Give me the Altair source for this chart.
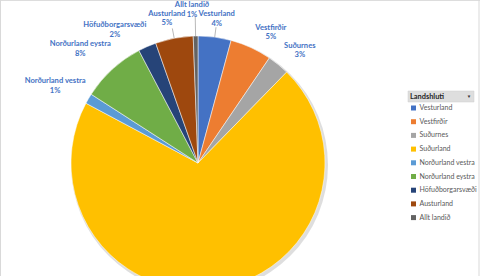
import altair as alt
import pandas as pd

regions = ["Vesturland", "Vestfirðir", "Suðurnes", "Suðurland", "Norðurland vestra",
           "Norðurland eystra", "Höfuðborgarsvæði", "Austurland", "Allt landið"]
values = [4.2, 5.3, 2.8, 70.5, 1.3, 8.2, 2.3, 4.8, 0.6]
colors = ["#4472C4", "#ED7D31", "#A5A5A5", "#FFC000", "#5B9BD5",
          "#70AD47", "#264478", "#9E480E", "#636363"]
pct_labels = ["4%", "5%", "3%", "71%", "1%", "8%", "2%", "5%", "1%"]
leader_regions = ["Vesturland", "Austurland", "Allt landið"]

df = pd.DataFrame({
    "region": regions,
    "value": values,
    "idx": list(range(len(regions))),
    "label": [f"{r}\n{p}" for r, p in zip(regions, pct_labels)],
})

CX, CY, R = 198, 163, 127

# label placement (radius, dx, dy) – layout only; the Suðurland label falls
# below the visible frame in the reference and is not drawn
label_place = {
    "Vesturland": (150, -1, 0),
    "Vestfirðir": (153, 9, 4),
    "Suðurnes": (153, 5, 1),
    "Norðurland vestra": (161, -4, 0),
    "Norðurland eystra": (161, -9, 0),
    "Höfuðborgarsvæði": (158, -20, 7),
    "Austurland": (150, -3, -2),
    "Allt landið": (158, -3, 0),
}

color_scale = alt.Scale(domain=regions, range=colors)
base = alt.Chart(df)

shadow = alt.Chart(pd.DataFrame({"a": [1]})).mark_arc(
    radius=R + 1.5, fill="#000000", opacity=0.13
).encode(x=alt.value(CX + 1.5), y=alt.value(CY + 2))

pie = base.mark_arc(radius=R, stroke="white", strokeWidth=0.5).encode(
    theta=alt.Theta("value:Q", stack=True),
    color=alt.Color("region:N", scale=color_scale, sort=regions,
                    legend=alt.Legend(orient="none", legendX=410, legendY=104.5,
                                      title=None, symbolType="square",
                                      symbolSize=25, symbolStrokeWidth=0,
                                      labelFontSize=7.0, labelColor="#595959",
                                      labelFont="Lato", rowPadding=5.7,
                                      labelOffset=2.5)),
    order=alt.Order("idx:Q"),
    x=alt.value(CX), y=alt.value(CY),
)

label_style = dict(font="Lato", fontSize=7.6, fontWeight="bold", color="#4472C4",
                   lineBreak="\n", align="center", baseline="middle", lineHeight=9.5)

label_layers = []
for reg, (rad, dx, dy) in label_place.items():
    label_layers.append(
        base.mark_text(radius=rad, dx=dx, dy=dy, **label_style).encode(
            theta=alt.Theta("value:Q", stack=True),
            order=alt.Order("idx:Q"),
            text=alt.condition(alt.FieldEqualPredicate(field="region", equal=reg),
                               "label:N", alt.value("")),
            x=alt.value(CX), y=alt.value(CY),
        )
    )

leaders = base.transform_joinaggregate(total="sum(value)").transform_window(
    cum="sum(value)", sort=[alt.SortField("idx")]
).transform_calculate(
    a="(datum.cum - datum.value/2) / datum.total * 2 * PI",
    ext="datum.region == 'Allt landið' ? 20 : 10",
    x1=f"{CX} + {R} * sin(datum.a)",
    y1=f"{CY} - {R} * cos(datum.a)",
    x2=f"{CX} + ({R} + datum.ext) * sin(datum.a)",
    y2=f"{CY} - ({R} + datum.ext) * cos(datum.a)",
).transform_filter(
    alt.FieldOneOfPredicate(field="region", oneOf=leader_regions)
).mark_rule(color="#a6a6a6", strokeWidth=0.8).encode(
    x=alt.X("x1:Q", scale=None), y=alt.Y("y1:Q", scale=None),
    x2="x2:Q", y2="y2:Q",
)

hdr = pd.DataFrame({"t": ["Landshluti"]})
header_box = alt.Chart(hdr).mark_rect(fill="#dedede", stroke="#cfcfcf", strokeWidth=0.5).encode(
    x=alt.value(408), x2=alt.value(474), y=alt.value(91), y2=alt.value(102))
header_text = alt.Chart(hdr).mark_text(
    align="left", baseline="middle", font="Lato", fontSize=7.4, fontWeight="bold",
    color="#262626"
).encode(x=alt.value(410), y=alt.value(96.8), text="t:N")
header_arrow = alt.Chart(hdr).mark_text(
    align="center", baseline="middle", fontSize=4.5, color="#333333"
).encode(x=alt.value(469), y=alt.value(97), text=alt.value("▼"))

frame = alt.Chart(pd.DataFrame({"x": [0.5, 479]})).mark_rule(
    color="#d9d9d9", strokeWidth=1
).encode(x=alt.X("x:Q", scale=None), y=alt.value(0), y2=alt.value(276))

chart = alt.layer(
    frame, shadow, pie, leaders, *label_layers,
    header_box, header_text, header_arrow
).properties(
    width=480, height=276, padding=0, autosize=alt.AutoSizeParams(type="none")
).configure_view(stroke=None).configure(background="white")

chart.save("out.html", embed_options={"renderer": "svg", "actions": False})
